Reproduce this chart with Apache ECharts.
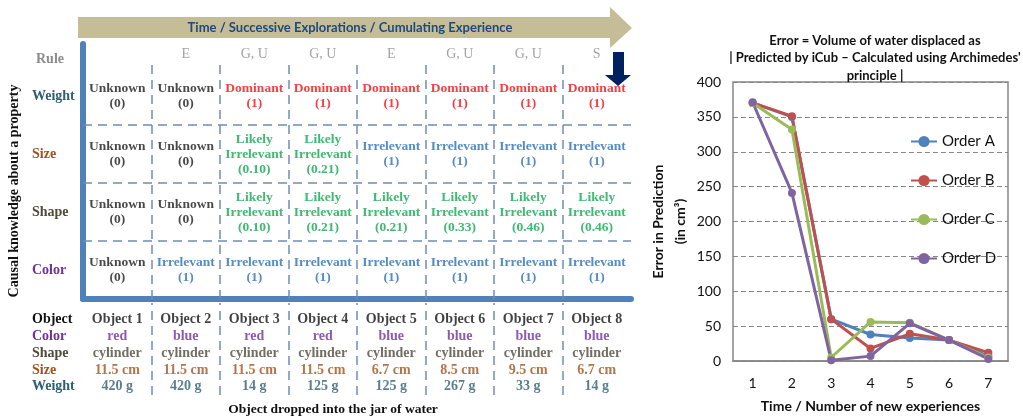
<!DOCTYPE html>
<html>
<head>
<meta charset="utf-8">
<script src="https://cdn.jsdelivr.net/npm/echarts@6/dist/echarts.min.js"></script>
<style>
  html, body { margin: 0; padding: 0; background: #fff; }
  #main { width: 1023px; height: 418px; }
</style>
</head>
<body>
<div id="main"></div>
<script>
// --- right chart: error per step ---
var steps = ['1', '2', '3', '4', '5', '6', '7'];
var orderA = [370, 350, 60, 38, 33, 30, 7];
var orderB = [370, 351, 60, 18, 39, 30, 12];
var orderC = [370, 332, 5, 56, 55, 30, 5];
var orderD = [371, 241, 1, 7, 54, 30, 3];

// --- left table ---
var objectNames = ['Object 1', 'Object 2', 'Object 3', 'Object 4', 'Object 5', 'Object 6', 'Object 7', 'Object 8'];
var ruleUsed = ['', 'E', 'G, U', 'G, U', 'E', 'G, U', 'G, U', 'S'];
var weightState = ['Unknown', 'Unknown', 'Dominant', 'Dominant', 'Dominant', 'Dominant', 'Dominant', 'Dominant'];
var weightScore = ['0', '0', '1', '1', '1', '1', '1', '1'];
var sizeState = ['Unknown', 'Unknown', 'Likely Irrelevant', 'Likely Irrelevant', 'Irrelevant', 'Irrelevant', 'Irrelevant', 'Irrelevant'];
var sizeScore = ['0', '0', '0.10', '0.21', '1', '1', '1', '1'];
var shapeState = ['Unknown', 'Unknown', 'Likely Irrelevant', 'Likely Irrelevant', 'Likely Irrelevant', 'Likely Irrelevant', 'Likely Irrelevant', 'Likely Irrelevant'];
var shapeScore = ['0', '0', '0.10', '0.21', '0.21', '0.33', '0.46', '0.46'];
var colorState = ['Unknown', 'Irrelevant', 'Irrelevant', 'Irrelevant', 'Irrelevant', 'Irrelevant', 'Irrelevant', 'Irrelevant'];
var colorScore = ['0', '1', '1', '1', '1', '1', '1', '1'];
var objColor = ['red', 'blue', 'red', 'red', 'blue', 'blue', 'blue', 'blue'];
var objShape = ['cylinder', 'cylinder', 'cylinder', 'cylinder', 'cylinder', 'cylinder', 'cylinder', 'cylinder'];
var objSize = ['11.5 cm', '11.5 cm', '11.5 cm', '11.5 cm', '6.7 cm', '8.5 cm', '9.5 cm', '6.7 cm'];
var objWeight = ['420 g', '420 g', '14 g', '125 g', '125 g', '267 g', '33 g', '14 g'];

var serif = '"Liberation Serif", "DejaVu Serif", serif';
var sans = 'Lato, "Open Sans", sans-serif';
var dashBlue = '#6f8cb4';
var thickBlue = '#4f81bd';

var propColors = {Object: '#111111', Color: '#7030a0', Shape: '#4f4a3a', Size: '#a0521e', Weight: '#2f5f70'};
function richFor(colors, size) {
  var r = {};
  Object.keys(colors).forEach(function (k) {
    r[k] = {color: colors[k], fontFamily: serif, fontWeight: 'bold', fontSize: size};
  });
  return r;
}

var stateKey = {'Unknown': 'unk', 'Dominant': 'dom', 'Likely Irrelevant': 'li', 'Irrelevant': 'irr'};
var stateColors = {unk: '#1a1a1a', dom: '#ee1111', li: '#10a850', irr: '#2a6fb5'};

// rows from bottom to top in the knowledge grid
var knowRows = [
  {state: colorState, score: colorScore},
  {state: shapeState, score: shapeScore},
  {state: sizeState, score: sizeScore},
  {state: weightState, score: weightScore}
];
var cellData = [];
knowRows.forEach(function (row, r) {
  row.state.forEach(function (st, i) {
    cellData.push({value: [i + 0.5, r + 0.5], state: st, score: row.score[i]});
  });
});
var ruleData = ruleUsed.map(function (t, i) { return {value: [i + 0.5, 4.22], txt: t}; });

var infoRows = [
  {key: 'Weight', vals: objWeight},
  {key: 'Size', vals: objSize},
  {key: 'Shape', vals: objShape},
  {key: 'Color', vals: objColor},
  {key: 'Object', vals: objectNames}
];
var infoData = [];
infoRows.forEach(function (row, r) {
  row.vals.forEach(function (v, i) {
    infoData.push({value: [i + 0.5, r + 0.5], txt: v, key: row.key});
  });
});
var rowNamesA = {'0.5': 'Color', '1.5': 'Shape', '2.5': 'Size', '3.5': 'Weight'};
var rowNamesB = {'0.5': 'Weight', '1.5': 'Size', '2.5': 'Shape', '3.5': 'Color', '4.5': 'Object'};

function vLines(top) {
  return [1, 2, 3, 4, 5, 6, 7].map(function (x) { return [{coord: [x, 0]}, {coord: [x, top]}]; });
}
var hLines = [1, 2, 3].map(function (y) { return [{coord: [0, y]}, {coord: [8, y]}]; });

var cellRich = {};
Object.keys(stateColors).forEach(function (k) {
  cellRich[k] = {color: stateColors[k], fontFamily: serif, fontWeight: 'bold', fontSize: 13.5, lineHeight: 15};
});

function lineSeries(name, data, color) {
  return {
    name: name, type: 'line', data: data, xAxisIndex: 0, yAxisIndex: 0,
    symbol: 'circle', symbolSize: 8,
    lineStyle: {color: color, width: 3},
    itemStyle: {color: color}
  };
}

var chart = echarts.init(document.getElementById('main'));
chart.setOption({
  animation: false,
  backgroundColor: '#fff',
  title: {
    text: 'Error = Volume of water displaced as\n| Predicted by iCub \u2013 Calculated using Archimedes\'\nprinciple |',
    left: 870, top: 27, textAlign: 'center',
    textStyle: {fontFamily: sans, fontSize: 13, fontWeight: 'bold', color: '#111', lineHeight: 17.5}
  },
  legend: {
    data: ['Order A', 'Order B', 'Order C', 'Order D'],
    orient: 'vertical', left: 905, top: 129,
    itemWidth: 26, itemHeight: 14, itemGap: 24,
    textStyle: {fontFamily: sans, fontSize: 15, color: '#111'}
  },
  grid: [
    {left: 733, top: 82, width: 275, height: 281, show: true, borderColor: '#868686', borderWidth: 1.5},
    {left: 83, top: 44, width: 548, height: 255},
    {left: 83, top: 303, width: 548, height: 93.5}
  ],
  xAxis: [
    {
      type: 'category', gridIndex: 0, data: steps, boundaryGap: true,
      axisLine: {lineStyle: {color: '#868686', width: 1.5}},
      axisTick: {show: false},
      axisLabel: {fontFamily: sans, fontSize: 14, color: '#111', margin: 15},
      name: 'Time / Number of new experiences', nameLocation: 'middle', nameGap: 38,
      nameTextStyle: {fontFamily: sans, fontSize: 14, fontWeight: 'bold', color: '#111'}
    },
    {
      type: 'value', gridIndex: 1, min: 0, max: 8,
      axisLine: {show: true, lineStyle: {color: thickBlue, width: 6}},
      axisTick: {show: false}, axisLabel: {show: false}, splitLine: {show: false}
    },
    {
      type: 'value', gridIndex: 2, min: 0, max: 8,
      axisLine: {show: false}, axisTick: {show: false}, axisLabel: {show: false}, splitLine: {show: false},
      name: 'Object dropped into the jar of water', nameLocation: 'middle', nameGap: 8,
      nameTextStyle: {fontFamily: serif, fontSize: 13.5, fontWeight: 'bold', color: '#111', padding: [0, 48, 0, 0]}
    }
  ],
  yAxis: [
    {
      type: 'value', gridIndex: 0, min: 0, max: 400, interval: 50,
      axisLine: {show: false}, axisTick: {show: false},
      axisLabel: {fontFamily: sans, fontSize: 14, color: '#111', margin: 12},
      splitLine: {lineStyle: {color: '#868686', type: [5, 3], width: 1}},
      name: 'Error in Prediction\n(in cm\u00b3)', nameLocation: 'middle', nameGap: 42,
      nameTextStyle: {fontFamily: sans, fontSize: 14, fontWeight: 'bold', color: '#111', lineHeight: 22}
    },
    {
      type: 'value', gridIndex: 1, min: 0, max: 4.4, interval: 0.5, offset: 4,
      axisLine: {show: true, lineStyle: {color: thickBlue, width: 6}},
      axisTick: {show: false}, splitLine: {show: false},
      axisLabel: {
        align: 'left', margin: 47,
        formatter: function (v) { var n = rowNamesA[String(v)]; return n ? '{' + n + '|' + n + '}' : ''; },
        rich: richFor(propColors, 14)
      },
      name: 'Rule', nameLocation: 'end', nameGap: -22,
      nameTextStyle: {fontFamily: serif, fontSize: 14, fontWeight: 'bold', color: '#8c8c8c', align: 'right', padding: [0, 19, 0, 0]}
    },
    {
      type: 'value', gridIndex: 2, min: 0, max: 5.5, interval: 0.5, offset: 4,
      axisLine: {show: false}, axisTick: {show: false}, splitLine: {show: false},
      axisLabel: {
        align: 'left', margin: 47,
        formatter: function (v) { var n = rowNamesB[String(v)]; return n ? '{' + n + '|' + n + '}' : ''; },
        rich: richFor(propColors, 14)
      }
    }
  ],
  graphic: [
    {
      type: 'polygon', silent: true,
      shape: {points: [[78, 17], [610, 17], [610, 7], [632, 28], [610, 48], [610, 38], [78, 38]]},
      style: {fill: '#c4bd97'}
    },
    {
      type: 'text', silent: true, x: 350, y: 28,
      style: {text: 'Time / Successive Explorations / Cumulating Experience', fill: '#1f497d',
        font: 'bold 13px ' + sans, textAlign: 'center', textVerticalAlign: 'middle'}
    },
    {
      type: 'polygon', silent: true,
      shape: {points: [[613, 52], [624, 52], [624, 75], [631, 75], [618, 86], [605, 75], [613, 75]]},
      style: {fill: '#002060'}
    },
    {
      type: 'text', silent: true, x: 14, y: 191, rotation: Math.PI / 2,
      style: {text: 'Causal knowledge about a property', fill: '#111',
        font: '600 14px ' + serif, textAlign: 'center', textVerticalAlign: 'middle'}
    }
  ],
  series: [
    lineSeries('Order A', orderA, '#4f81bd'),
    lineSeries('Order B', orderB, '#c0504d'),
    lineSeries('Order C', orderC, '#9bbb59'),
    lineSeries('Order D', orderD, '#8064a2'),
    {
      name: 'cells', type: 'scatter', xAxisIndex: 1, yAxisIndex: 1, silent: true,
      data: cellData, symbolSize: 1, itemStyle: {color: 'transparent'},
      label: {
        show: true, position: 'inside',
        formatter: function (p) {
          var key = stateKey[p.data.state];
          var words = p.data.state === 'Likely Irrelevant' ? ['Likely', 'Irrelevant'] : [p.data.state];
          words.push('(' + p.data.score + ')');
          return words.map(function (w) { return '{' + key + '|' + w + '}'; }).join('\n');
        },
        rich: cellRich
      },
      markLine: {
        silent: true, symbol: ['none', 'none'], label: {show: false},
        lineStyle: {color: dashBlue, width: 1.5, type: [9, 6]},
        data: vLines(4.12).concat(hLines)
      }
    },
    {
      name: 'rules', type: 'scatter', xAxisIndex: 1, yAxisIndex: 1, silent: true,
      data: ruleData, symbolSize: 1, itemStyle: {color: 'transparent'},
      label: {
        show: true, position: 'inside', formatter: function (p) { return p.data.txt; },
        fontFamily: serif, fontSize: 14, color: '#8c8c8c'
      }
    },
    {
      name: 'objects', type: 'scatter', xAxisIndex: 2, yAxisIndex: 2, silent: true,
      data: infoData, symbolSize: 1, itemStyle: {color: 'transparent'},
      label: {
        show: true, position: 'inside',
        formatter: function (p) { return '{' + p.data.key + '|' + p.data.txt + '}'; },
        rich: richFor(propColors, 14)
      },
      markLine: {
        silent: true, symbol: ['none', 'none'], label: {show: false},
        lineStyle: {color: dashBlue, width: 1.5, type: [9, 6]},
        data: vLines(5.5)
      }
    }
  ]
});
</script>
</body>
</html>
